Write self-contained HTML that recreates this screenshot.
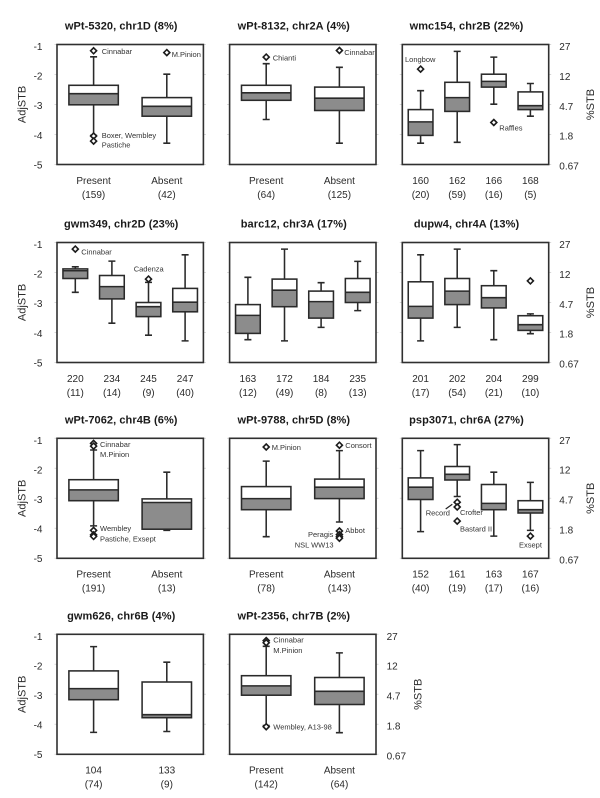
<!DOCTYPE html>
<html lang="en">
<head>
<meta charset="utf-8">
<title>AdjSTB box plots by marker</title>
<style>
  html, body { margin: 0; padding: 0; background: #fff; }
  svg { display: block; }
  text { font-family: "Liberation Sans", Arial, sans-serif; fill: #2a2a2a; }
  .title { font-size: 11px; font-weight: bold; text-anchor: middle; letter-spacing: .07px; fill: #1a1a1a; }
  .tick, .cat { font-size: 10px; }
  .cat { text-anchor: middle; }
  .axis-title { font-size: 11px; text-anchor: middle; }
  .note { font-size: 7.5px; fill: #333; }
</style>
</head>
<body>
<svg id="figure" width="600" height="798" viewBox="0 0 600 798" xmlns="http://www.w3.org/2000/svg">
  <rect width="600" height="798" fill="#fff"/>
  <g id="marks"></g>
  <g>
    <text class="note" x="101.7" y="54">Cinnabar</text>
    <text class="note" x="171.7" y="57">M.Pinion</text>
    <text class="note" x="101.7" y="138">Boxer, Wembley</text>
    <text class="note" x="101.7" y="147.5">Pastiche</text>
    <text class="note" x="272.7" y="60.5">Chianti</text>
    <text class="note" x="344.3" y="55">Cinnabar</text>
    <text class="note" x="405" y="62">Longbow</text>
    <text class="note" x="499.3" y="130.5">Raffles</text>
    <text class="note" x="81.3" y="254.5">Cinnabar</text>
    <text class="note" x="133.7" y="271.5">Cadenza</text>
    <text class="note" x="100" y="447">Cinnabar</text>
    <text class="note" x="100" y="457">M.Pinion</text>
    <text class="note" x="100" y="531">Wembley</text>
    <text class="note" x="100" y="541.5">Pastiche, Exsept</text>
    <text class="note" x="271.7" y="450">M.Pinion</text>
    <text class="note" x="345.3" y="448">Consort</text>
    <text class="note" x="345.3" y="533">Abbot</text>
    <text class="note" x="308" y="537">Peragis</text>
    <text class="note" x="294.7" y="547.5">NSL WW13</text>
    <text class="note" x="425.7" y="515.5">Record</text>
    <text class="note" x="460" y="515">Crofter</text>
    <text class="note" x="460" y="531.5">Bastard II</text>
    <text class="note" x="519" y="547.5">Exsept</text>
    <line x1="445.7" y1="509" x2="452.3" y2="504.3" stroke="#222" stroke-width="1.2"/>
    <text class="note" x="273.3" y="642.5">Cinnabar</text>
    <text class="note" x="273.3" y="653">M.Pinion</text>
    <text class="note" x="273.3" y="729.5">Wembley, A13-98</text>
  </g>
</svg>
<script>
const leftTicks = ['-1', '-2', '-3', '-4', '-5'];
const tickValues = [-1, -2, -3, -4, -5];
const rightTicks = ['27', '12', '4.7', '1.8', '0.67'];

const p1Categories = ['Present', 'Absent'];
const p1Counts = [159, 42];
const p1High = [-1.41, -1.99];
const p1Q3 = [-2.36, -2.77];
const p1Median = [-2.64, -3.06];
const p1Q1 = [-3.01, -3.39];
const p1Low = [-4.03, -4.29];
const p1Outliers = [[-1.21, -4.05, -4.22], [-1.27]];

const p2Categories = ['Present', 'Absent'];
const p2Counts = [64, 125];
const p2High = [-1.64, -1.76];
const p2Q3 = [-2.36, -2.42];
const p2Median = [-2.61, -2.79];
const p2Q1 = [-2.86, -3.2];
const p2Low = [-3.5, -4.29];
const p2Outliers = [[-1.42], [-1.2]];

const p3Categories = ['160', '162', '166', '168'];
const p3Counts = [20, 59, 16, 5];
const p3High = [-2.54, -1.23, -1.42, -2.3];
const p3Q3 = [-3.17, -2.26, -1.99, -2.58];
const p3Median = [-3.58, -2.77, -2.23, -3.04];
const p3Q1 = [-4.03, -3.23, -2.42, -3.17];
const p3Low = [-4.29, -4.26, -2.99, -3.39];
const p3Outliers = [[-1.82], [], [-3.6], []];

const p4Categories = ['220', '234', '245', '247'];
const p4Counts = [11, 14, 9, 40];
const p4High = [-1.81, -1.62, -2.33, -1.41];
const p4Q3 = [-1.88, -2.1, -3.0, -2.53];
const p4Median = [-1.94, -2.47, -3.14, -2.99];
const p4Q1 = [-2.2, -2.88, -3.47, -3.31];
const p4Low = [-2.66, -3.69, -4.09, -4.28];
const p4Outliers = [[-1.22], [], [-2.22], []];

const p5Categories = ['163', '172', '184', '235'];
const p5Counts = [12, 49, 8, 13];
const p5High = [-2.16, -1.22, -2.34, -1.63];
const p5Q3 = [-3.07, -2.22, -2.62, -2.2];
const p5Median = [-3.43, -2.59, -2.97, -2.66];
const p5Q1 = [-4.03, -3.14, -3.52, -3.0];
const p5Low = [-4.24, -4.28, -3.83, -3.27];
const p5Outliers = [[], [], [], []];

const p6Categories = ['201', '202', '204', '299'];
const p6Counts = [17, 54, 21, 10];
const p6High = [-1.41, -1.22, -1.94, -3.38];
const p6Q3 = [-2.31, -2.2, -2.44, -3.44];
const p6Median = [-3.13, -2.62, -2.84, -3.74];
const p6Q1 = [-3.52, -3.07, -3.18, -3.93];
const p6Low = [-4.28, -3.83, -4.24, -4.04];
const p6Outliers = [[], [], [], [-2.28]];

const p7Categories = ['Present', 'Absent'];
const p7Counts = [191, 13];
const p7High = [-1.39, -2.13];
const p7Q3 = [-2.38, -3.02];
const p7Median = [-2.72, -3.14];
const p7Q1 = [-3.08, -4.03];
const p7Low = [-3.92, -4.07];
const p7Outliers = [[-1.17, -1.26, -4.07, -4.22, -4.27], []];

const p8Categories = ['Present', 'Absent'];
const p8Counts = [78, 143];
const p8High = [-1.76, -1.41];
const p8Q3 = [-2.61, -2.36];
const p8Median = [-3.01, -2.63];
const p8Q1 = [-3.38, -3.01];
const p8Low = [-4.28, -3.79];
const p8Outliers = [[-1.29], [-1.23, -4.09, -4.21, -4.28, -4.33]];

const p9Categories = ['152', '161', '163', '167'];
const p9Counts = [40, 19, 17, 16];
const p9High = [-1.41, -1.21, -2.13, -2.47];
const p9Q3 = [-2.32, -1.94, -2.54, -3.08];
const p9Median = [-2.63, -2.2, -3.17, -3.38];
const p9Q1 = [-3.04, -2.39, -3.38, -3.49];
const p9Low = [-4.11, -2.94, -4.26, -4.07];
const p9Outliers = [[], [-3.13, -3.29, -3.76], [], [-4.26]];

const p10Categories = ['104', '133'];
const p10Counts = [74, 9];
const p10High = [-1.41, -1.93];
const p10Q3 = [-2.22, -2.59];
const p10Median = [-2.81, -3.68];
const p10Q1 = [-3.18, -3.78];
const p10Low = [-4.27, -4.24];
const p10Outliers = [[], []];

const p11Categories = ['Present', 'Absent'];
const p11Counts = [142, 64];
const p11High = [-1.4, -1.62];
const p11Q3 = [-2.38, -2.44];
const p11Median = [-2.72, -2.9];
const p11Q1 = [-3.03, -3.34];
const p11Low = [-4.04, -4.28];
const p11Outliers = [[-1.21, -1.28, -4.08], []];

const panelTitles = [
  'wPt-5320, chr1D (8%)', 'wPt-8132, chr2A (4%)', 'wmc154, chr2B (22%)',
  'gwm349, chr2D (23%)', 'barc12, chr3A (17%)', 'dupw4, chr4A (13%)',
  'wPt-7062, chr4B (6%)', 'wPt-9788, chr5D (8%)', 'psp3071, chr6A (27%)',
  'gwm626, chr6B (4%)', 'wPt-2356, chr7B (2%)'
];
const panelCategories = [p1Categories, p2Categories, p3Categories, p4Categories, p5Categories, p6Categories, p7Categories, p8Categories, p9Categories, p10Categories, p11Categories];
const panelCounts = [p1Counts, p2Counts, p3Counts, p4Counts, p5Counts, p6Counts, p7Counts, p8Counts, p9Counts, p10Counts, p11Counts];
const panelHigh = [p1High, p2High, p3High, p4High, p5High, p6High, p7High, p8High, p9High, p10High, p11High];
const panelQ3 = [p1Q3, p2Q3, p3Q3, p4Q3, p5Q3, p6Q3, p7Q3, p8Q3, p9Q3, p10Q3, p11Q3];
const panelMedian = [p1Median, p2Median, p3Median, p4Median, p5Median, p6Median, p7Median, p8Median, p9Median, p10Median, p11Median];
const panelQ1 = [p1Q1, p2Q1, p3Q1, p4Q1, p5Q1, p6Q1, p7Q1, p8Q1, p9Q1, p10Q1, p11Q1];
const panelLow = [p1Low, p2Low, p3Low, p4Low, p5Low, p6Low, p7Low, p8Low, p9Low, p10Low, p11Low];
const panelOutliers = [p1Outliers, p2Outliers, p3Outliers, p4Outliers, p5Outliers, p6Outliers, p7Outliers, p8Outliers, p9Outliers, p10Outliers, p11Outliers];

// Layout of the small-multiple grid
const layout = {
  colLeft: [57, 229.6, 402.3],
  rowTop: [44.5, 242.5, 438.3, 634.3],
  width: 146.4,
  height: 120,
  yMax: -1,
  yMin: -5
};

const NS = 'http://www.w3.org/2000/svg';
const root = document.getElementById('marks');

function make(tag, parent, attrs, text) {
  const el = document.createElementNS(NS, tag);
  for (const k in attrs) el.setAttribute(k, attrs[k]);
  if (text !== undefined) el.textContent = text;
  parent.appendChild(el);
  return el;
}

function yScale(value, top) {
  return top + (layout.yMax - value) / (layout.yMax - layout.yMin) * layout.height;
}

function xScale(index, count, left) {
  return left + (index + 0.5) / count * layout.width;
}

const INK = '#2a2a2a';
const LINE_WIDTH = 1.55;

function drawFrame(group, left, top) {
  const right = left + layout.width;
  tickValues.forEach(function (v) {
    const y = yScale(v, top);
    const a = make('line', group, { x1: left - 2.5, x2: left, y1: y, y2: y, stroke: '#d8d8d8', 'stroke-width': 1 });
    
    
    const b = make('line', group, { x1: right, x2: right + 2.5, y1: y, y2: y, stroke: '#d8d8d8', 'stroke-width': 1 });
    
    
  });
  const frame = make('rect', group, { x: left, y: top, width: layout.width, height: layout.height, fill: 'none', stroke: '#303030', 'stroke-width': 1.6 });
  
  
}

function drawBox(group, p, i, n, left, top) {
  const cx = xScale(i, n, left);
  const boxW = layout.width / n * 0.675;
  const capW = 7;
  const high = yScale(panelHigh[p][i], top);
  const q3 = yScale(panelQ3[p][i], top);
  const med = yScale(panelMedian[p][i], top);
  const q1 = yScale(panelQ1[p][i], top);
  const low = yScale(panelLow[p][i], top);

  const g = make('g', group, {});
  
  

  const whisker = make('path', g, {
    d: 'M' + (cx - capW / 2) + ' ' + high + 'H' + (cx + capW / 2) + 'M' + cx + ' ' + high + 'V' + q3 +
       'M' + cx + ' ' + q1 + 'V' + low + 'M' + (cx - capW / 2) + ' ' + low + 'H' + (cx + capW / 2),
    fill: 'none', stroke: INK, 'stroke-width': LINE_WIDTH
  });
  
  

  const upper = make('rect', g, { x: cx - boxW / 2, y: q3, width: boxW, height: med - q3, fill: '#fff', stroke: 'none' });
  
  

  const lower = make('rect', g, { x: cx - boxW / 2, y: med, width: boxW, height: q1 - med, fill: '#8c8c8c', stroke: 'none' });
  
  

  const outline = make('rect', g, { x: cx - boxW / 2, y: q3, width: boxW, height: q1 - q3, fill: 'none', stroke: INK, 'stroke-width': LINE_WIDTH });
  
  

  const medLine = make('line', g, { x1: cx - boxW / 2, x2: cx + boxW / 2, y1: med, y2: med, stroke: INK, 'stroke-width': LINE_WIDTH });
  
  

  panelOutliers[p][i].forEach(function (v) {
    const y = yScale(v, top);
    const r = 3;
    const d = make('path', g, {
      d: 'M' + cx + ' ' + (y - r) + 'L' + (cx + r) + ' ' + y + 'L' + cx + ' ' + (y + r) + 'L' + (cx - r) + ' ' + y + 'Z',
      fill: '#fff', stroke: '#1c1c1c', 'stroke-width': 1.6
    });
    
    
  });

  const catLabel = make('text', g, { class: 'cat', x: cx, y: top + layout.height + 19.3 }, panelCategories[p][i]);
  
  

  const countLabel = make('text', g, { class: 'cat', x: cx, y: top + layout.height + 33.3 }, '(' + panelCounts[p][i] + ')');
  
  
}

panelTitles.forEach(function (title, p) {
  const col = p % 3;
  const row = Math.floor(p / 3);
  const left = layout.colLeft[col];
  const top = layout.rowTop[row];
  const right = left + layout.width;

  const group = make('g', root, {});
  
  

  drawFrame(group, left, top);

  const titleEl = make('text', group, { class: 'title', x: left + layout.width / 2 - 9, y: top - 15 }, title);
  
  

  const n = panelCategories[p].length;
  for (let i = 0; i < n; i++) drawBox(group, p, i, n, left, top);

  if (col === 0) {
    leftTicks.forEach(function (label, t) {
      const el = make('text', group, { class: 'tick', x: 42.5, y: top + 5.5 + t * 29.6, 'text-anchor': 'end' }, label);
      
      
    });
    const cy = top + layout.height / 2;
    const yTitle = make('text', group, { class: 'axis-title', transform: 'translate(25.5 ' + cy + ') rotate(-90)' }, 'AdjSTB');
    
    
  }

  if (col === 2 || p === panelTitles.length - 1) {
    rightTicks.forEach(function (label, t) {
      const el = make('text', group, { class: 'tick', x: right + 10.6, y: top + 5.5 + t * 29.9 }, label);
      
      
    });
    const cy2 = top + layout.height / 2;
    const rTitle = make('text', group, { class: 'axis-title', transform: 'translate(' + (right + 45.5) + ' ' + cy2 + ') rotate(-90)' }, '%STB');
    
    
  }
});
</script>
</body>
</html>
